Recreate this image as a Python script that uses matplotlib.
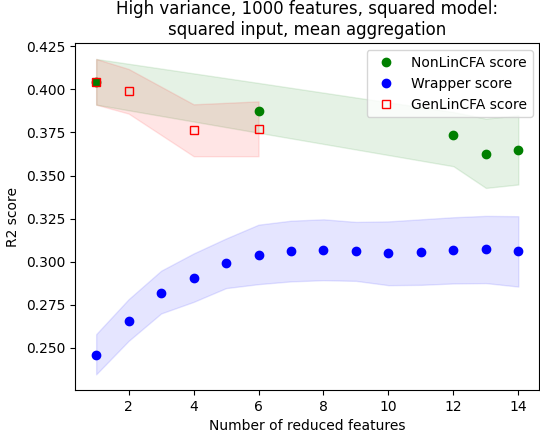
import numpy as np
import matplotlib.pyplot as plt

# NonLinCFA
x_nl = [1, 6, 12, 13, 14]
nl_score = [0.4042, 0.3874, 0.3734, 0.3626, 0.3649]
nl_up = [0.4176, 0.4037, 0.3868, 0.3830, 0.3849]
nl_low = [0.3911, 0.3748, 0.3554, 0.3428, 0.3448]

# Wrapper
x_wr = list(range(1, 15))
wr_score = [0.2461, 0.2657, 0.2820, 0.2905, 0.2990, 0.3040, 0.3062,
            0.3070, 0.3060, 0.3050, 0.3058, 0.3068, 0.3072, 0.3060]
wr_up = [0.2580, 0.2783, 0.2948, 0.3048, 0.3135, 0.3215, 0.3238,
         0.3246, 0.3231, 0.3234, 0.3246, 0.3258, 0.3266, 0.3264]
wr_low = [0.2347, 0.2541, 0.2700, 0.2767, 0.2847, 0.2870, 0.2886,
          0.2893, 0.2889, 0.2864, 0.2866, 0.2874, 0.2876, 0.2856]

# GenLinCFA
x_gl = [1, 2, 4, 6]
gl_score = [0.4042, 0.3988, 0.3762, 0.3771]
gl_up = [0.4176, 0.4118, 0.3913, 0.3930]
gl_low = [0.3911, 0.3859, 0.3612, 0.3612]

fig = plt.figure(figsize=(5.4, 4.32), dpi=100)
ax = fig.add_axes([0.139, 0.097, 0.86, 0.803])

ax.plot(x_nl, nl_score, 'o', color='green', label='NonLinCFA score')
ax.fill_between(x_nl, nl_low, nl_up, color='green', alpha=0.1)
ax.plot(x_wr, wr_score, 'o', color='blue', label='Wrapper score')
ax.fill_between(x_wr, wr_low, wr_up, color='blue', alpha=0.1)
ax.plot(x_gl, gl_score, 's', markerfacecolor='none', markeredgecolor='red',
        label='GenLinCFA score')
ax.fill_between(x_gl, gl_low, gl_up, color='red', alpha=0.1)

ax.set_title('High variance, 1000 features, squared model:\nsquared input, mean aggregation')
ax.set_xlabel('Number of reduced features')
ax.set_ylabel('R2 score')
ax.legend(loc='upper right')

fig.savefig('out.png', dpi=100)
